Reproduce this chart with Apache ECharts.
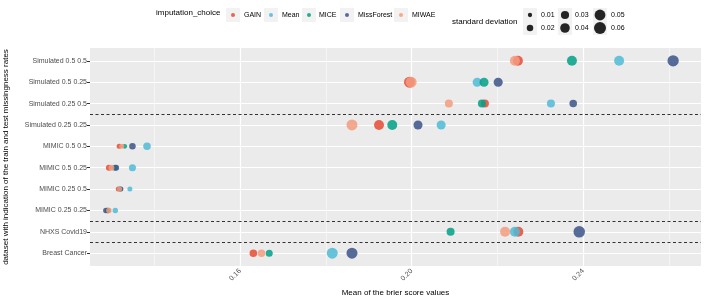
<!DOCTYPE html>
<html><head><meta charset="utf-8">
<script src="https://cdn.jsdelivr.net/npm/echarts@6/dist/echarts.min.js"></script>
<style>html,body{margin:0;padding:0;background:#fff}#c{width:706px;height:299px}</style>
</head><body><div id="c"></div>
<script>
// ---- data ----
const categories = ['Simulated 0.5 0.5','Simulated 0.5 0.25','Simulated 0.25 0.5','Simulated 0.25 0.25',
  'MIMIC 0.5 0.5','MIMIC 0.5 0.25','MIMIC 0.25 0.5','MIMIC 0.25 0.25','NHXS Covid19','Breast Cancer'];
const methods = ['GAIN','Mean','MICE','MissForest','MIWAE'];
const colors = ['#E64B35','#4DBBD5','#00A087','#3C5488','#F39B7F'];
const gainMean = [0.2248,0.1995,0.2171,0.1924,0.1318,0.1294,0.1316,0.1291,0.2249,0.1631];
const gainSd   = [0.043,0.051,0.029,0.043,0.013,0.017,0.013,0.015,0.043,0.026];
const meanMean = [0.2484,0.2153,0.2325,0.2069,0.1383,0.1349,0.1343,0.1309,0.2241,0.1815];
const meanSd   = [0.043,0.036,0.029,0.036,0.026,0.023,0.013,0.015,0.043,0.051];
const miceMean = [0.2374,0.2169,0.2164,0.1955,0.1331,0.1308,0.1320,0.1292,0.2091,0.1668];
const miceSd   = [0.043,0.036,0.029,0.043,0.012,0.017,0.013,0.015,0.029,0.023];
const mfMean   = [0.2610,0.2202,0.2377,0.2015,0.1349,0.1311,0.1322,0.1287,0.2391,0.1861];
const mfSd     = [0.054,0.036,0.026,0.036,0.020,0.017,0.013,0.015,0.056,0.051];
const miwaeMean= [0.2241,0.1999,0.2087,0.1861,0.1324,0.1300,0.1319,0.1294,0.2218,0.1650];
const miwaeSd  = [0.043,0.051,0.029,0.051,0.013,0.017,0.013,0.015,0.043,0.026];
const xTicks = [0.16,0.20,0.24];
const xMinor = [0.14,0.18,0.22,0.26];
const dashedAt = [2.5,7.5,8.5];
const sdLegend = [0.01,0.02,0.03,0.04,0.05,0.06];

const means = [gainMean,meanMean,miceMean,mfMean,miwaeMean];
const sds = [gainSd,meanSd,miceSd,mfSd,miwaeSd];
const catIdx = categories.map((c,i)=>i);
const FONT = "'Liberation Sans', Arial, sans-serif";
function dia(sd){ return 53*Math.sqrt(sd)-1; }

const series = [];
series.push({
  type:'scatter', data:[], silent:true, z:1,
  markLine:{silent:true, symbol:'none', label:{show:false}, animation:false,
    data:[
      ...xMinor.map(v=>({xAxis:v, lineStyle:{color:'#FFFFFF', width:0.5, type:'solid'}})),
      ...xTicks.map(v=>({xAxis:v, lineStyle:{color:'#FFFFFF', width:1.2, type:'solid'}})),
      ...catIdx.map(i=>({yAxis:i, lineStyle:{color:'#FFFFFF', width:1.2, type:'solid'}}))
    ]}
});
methods.forEach((m,k)=>{
  series.push({
    type:'scatter', name:m, z:5,
    data: means[k].map((v,i)=>[v,i,sds[k][i]]),
    symbolSize: d=>dia(d[2]),
    itemStyle:{color:colors[k], opacity:0.85},
    animation:false
  });
});
series.push({
  type:'scatter', data:[], silent:true, z:6,
  markLine:{silent:true, symbol:'none', label:{show:false}, animation:false,
    data: dashedAt.map(v=>({yAxis:v, lineStyle:{color:'#333333', width:1, type:[3,2.5]}}))}
});

// legends drawn as graphics
const graphic = [];
graphic.push({type:'text', left:156, top:9, style:{text:'imputation_choice', font:'8px '+FONT, fill:'#000'}});
const keyX = [233,271,309,347,401];
const txtX = [244,282,319,358,412];
methods.forEach((m,k)=>{
  graphic.push({type:'rect', shape:{x:keyX[k]-7, y:8, width:14, height:14}, style:{fill:'#F2F2F2'}});
  graphic.push({type:'circle', shape:{cx:keyX[k], cy:15, r:2}, style:{fill:colors[k], opacity:0.85}});
  graphic.push({type:'text', x:txtX[k], y:15, style:{text:m, font:'7px '+FONT, fill:'#000', verticalAlign:'middle'}});
});
graphic.push({type:'text', x:452, y:22, style:{text:'standard deviation', font:'8px '+FONT, fill:'#000', verticalAlign:'middle'}});
const colX = [530,565,600], colT = [541,575,611], rowY = [15,28];
colX.forEach(cx=>graphic.push({type:'rect', shape:{x:cx-7, y:8, width:14, height:27}, style:{fill:'#F2F2F2'}}));
sdLegend.forEach((s,i)=>{
  const c = Math.floor(i/2), r = i%2;
  graphic.push({type:'circle', shape:{cx:colX[c], cy:rowY[r], r:dia(s)/2}, style:{fill:'#000', opacity:0.85}});
  graphic.push({type:'text', x:colT[c], y:rowY[r], style:{text:s.toFixed(2), font:'7px '+FONT, fill:'#000', verticalAlign:'middle'}});
});

const chart = echarts.init(document.getElementById('c'), null, {renderer:'canvas'});
chart.setOption({
  animation:false,
  textStyle:{fontFamily:FONT},
  grid:{left:90, right:5, top:48, bottom:33, show:true, backgroundColor:'#EBEBEB', borderWidth:0,
    containLabel:false, outerBoundsMode:'none'},
  xAxis:{type:'value', min:0.125, max:0.2675, splitLine:{show:false}, axisLine:{show:false},
    axisTick:{show:true, customValues:xTicks, length:3, lineStyle:{color:'#333333'}},
    axisLabel:{customValues:xTicks, rotate:45, fontSize:7, color:'#4D4D4D', margin:4, fontFamily:FONT, formatter:v=>v.toFixed(2)},
    name:'Mean of the brier score values', nameLocation:'middle', nameGap:21,
    nameTextStyle:{fontSize:8, color:'#000', fontFamily:FONT}},
  yAxis:{type:'value', inverse:true, min:-0.6, max:9.6, splitLine:{show:false}, axisLine:{show:false},
    axisTick:{show:true, customValues:catIdx, length:3, lineStyle:{color:'#333333'}},
    axisLabel:{customValues:catIdx, fontSize:7, color:'#4D4D4D', margin:3, fontFamily:FONT, formatter:v=>categories[Math.round(v)]},
    name:'dataset with indication of the train and test missingness rates', nameLocation:'middle', nameGap:80, nameRotate:90,
    nameTextStyle:{fontSize:8, color:'#000', fontFamily:FONT}},
  series: series,
  graphic: graphic
});
</script></body></html>
